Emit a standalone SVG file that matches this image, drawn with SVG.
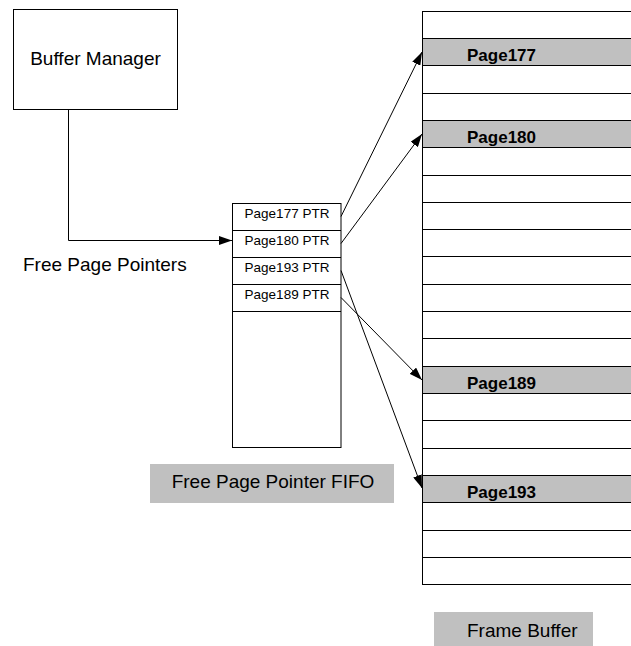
<svg xmlns="http://www.w3.org/2000/svg" width="631" height="646" viewBox="0 0 631 646">
<style>
.box{fill:#fff;stroke:#000;stroke-width:1}
.gray{fill:#c0c0c0;stroke:#000;stroke-width:1}
.lbl{fill:#c0c0c0;stroke:none}
.ln{stroke:#000;stroke-width:1;fill:none}
.t{font-family:"Liberation Sans",Arial,sans-serif;fill:#000}
.big{font-size:19px}
.sm{font-size:13.5px}
.bold{font-size:17px;font-weight:bold}
</style>
<defs>
<marker id="ah" markerUnits="userSpaceOnUse" markerWidth="13" markerHeight="9" refX="13" refY="4.5" orient="auto">
<path d="M0,0 L13,4.5 L0,9 z" fill="#000"/>
</marker>
</defs>
<rect width="631" height="646" fill="#fff"/>
<g id="buffer-manager">
<rect class="box" x="13.5" y="9.5" width="164" height="100"/>
<text class="t big" x="95.5" y="65" text-anchor="middle">Buffer Manager</text>
</g>
<g id="free-page-pointers-label">
<text class="t big" x="23" y="271">Free Page Pointers</text>
</g>
<g id="fifo">
<rect class="box" x="232.5" y="203.5" width="108.5" height="244"/>
<line class="ln" x1="232.5" y1="230.5" x2="341" y2="230.5"/>
<line class="ln" x1="232.5" y1="257.5" x2="341" y2="257.5"/>
<line class="ln" x1="232.5" y1="284.5" x2="341" y2="284.5"/>
<line class="ln" x1="232.5" y1="311.5" x2="341" y2="311.5"/>
<text class="t sm" x="287" y="217.5" text-anchor="middle">Page177 PTR</text>
<text class="t sm" x="287" y="245" text-anchor="middle">Page180 PTR</text>
<text class="t sm" x="287" y="272" text-anchor="middle">Page193 PTR</text>
<text class="t sm" x="287" y="299" text-anchor="middle">Page189 PTR</text>
</g>
<g id="fifo-label">
<rect class="lbl" x="150" y="464" width="244" height="39"/>
<text class="t big" x="273" y="488" text-anchor="middle">Free Page Pointer FIFO</text>
</g>
<g id="frame-buffer">
<rect class="box" x="422.5" y="11.5" width="220" height="573"/>
<rect class="gray" x="422.5" y="38.5" width="220" height="27"/>
<rect class="gray" x="422.5" y="120.5" width="220" height="27"/>
<rect class="gray" x="422.5" y="366.5" width="220" height="27"/>
<rect class="gray" x="422.5" y="475.5" width="220" height="27"/>
<g class="ln">
<line x1="422.5" y1="93.5" x2="631" y2="93.5"/>
<line x1="422.5" y1="175.5" x2="631" y2="175.5"/>
<line x1="422.5" y1="202.5" x2="631" y2="202.5"/>
<line x1="422.5" y1="229.5" x2="631" y2="229.5"/>
<line x1="422.5" y1="256.5" x2="631" y2="256.5"/>
<line x1="422.5" y1="284.5" x2="631" y2="284.5"/>
<line x1="422.5" y1="311.5" x2="631" y2="311.5"/>
<line x1="422.5" y1="338.5" x2="631" y2="338.5"/>
<line x1="422.5" y1="420.5" x2="631" y2="420.5"/>
<line x1="422.5" y1="448.5" x2="631" y2="448.5"/>
<line x1="422.5" y1="530.5" x2="631" y2="530.5"/>
<line x1="422.5" y1="557.5" x2="631" y2="557.5"/>
</g>
<text class="t bold" x="467" y="60.5">Page177</text>
<text class="t bold" x="467" y="142.5">Page180</text>
<text class="t bold" x="467" y="388.5">Page189</text>
<text class="t bold" x="467" y="497.5">Page193</text>
</g>
<g id="frame-buffer-label">
<rect class="lbl" x="434" y="612" width="159" height="34"/>
<text class="t big" x="467" y="637">Frame Buffer</text>
</g>
<g id="connectors" class="ln">
<path d="M68.5,109.5 V240.5 H232" marker-end="url(#ah)"/>
<line x1="341" y1="216.5" x2="422" y2="52" marker-end="url(#ah)"/>
<line x1="341" y1="243.5" x2="422" y2="134" marker-end="url(#ah)"/>
<line x1="341" y1="270.5" x2="422" y2="488" marker-end="url(#ah)"/>
<line x1="341" y1="297.5" x2="422" y2="380" marker-end="url(#ah)"/>
</g>
</svg>
